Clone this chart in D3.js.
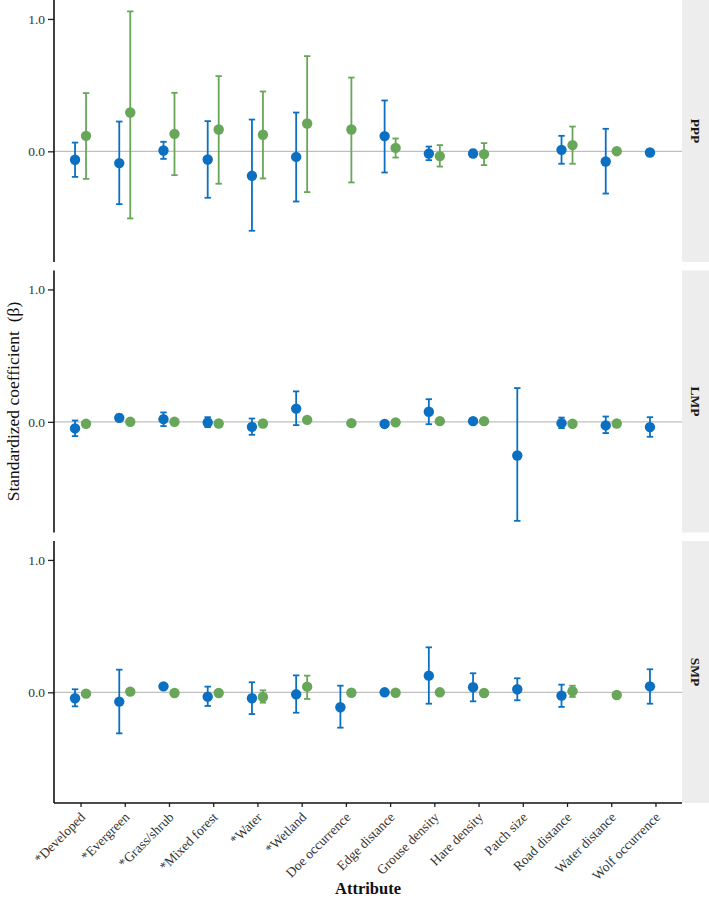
<!DOCTYPE html>
<html><head><meta charset="utf-8">
<script src="https://cdn.jsdelivr.net/npm/d3@7"></script>
<style>body{margin:0;background:#fff}svg{display:block}</style>
</head><body>
<script>
const categories = ["*Developed","*Evergreen","*Grass/shrub","*Mixed forest","*Water","*Wetland","Doe occurrence","Edge distance","Grouse density","Hare density","Patch size","Road distance","Water distance","Wolf occurrence"];
const panels = ["PPP","LMP","SMP"];
const seriesNames = ["Model A","Model B"];
const seriesColors = ["#0b70c2","#68a65a"];
const yTicks = [0, 1];
const yTickLabels = ["0.0","1.0"];

// [estimate, lower, upper] per category; null = absent
const pppA = [[-0.064,-0.193,0.066],[-0.089,-0.399,0.225],[0.006,-0.057,0.072],[-0.062,-0.351,0.228],[-0.185,-0.600,0.240],[-0.042,-0.379,0.293],null,[0.115,-0.160,0.384],[-0.017,-0.067,0.036],[-0.017,-0.039,0.012],null,[0.011,-0.094,0.117],[-0.077,-0.319,0.170],[-0.009,-0.029,0.012]];
const pppB = [[0.117,-0.208,0.440],[0.293,-0.507,1.057],[0.132,-0.180,0.442],[0.165,-0.245,0.568],[0.125,-0.205,0.452],[0.210,-0.308,0.719],[0.165,-0.235,0.557],[0.026,-0.047,0.097],[-0.036,-0.115,0.047],[-0.021,-0.104,0.062],null,[0.047,-0.094,0.187],[0.001,-0.004,0.006],null];
const lmpA = [[-0.050,-0.108,0.010],[0.030,0.007,0.055],[0.020,-0.032,0.071],[-0.005,-0.040,0.035],[-0.038,-0.098,0.025],[0.100,-0.025,0.230],null,[-0.016,-0.022,-0.010],[0.076,-0.018,0.171],[0.005,-0.001,0.011],[-0.254,-0.748,0.255],[-0.010,-0.048,0.032],[-0.027,-0.085,0.040],[-0.040,-0.113,0.035]];
const lmpB = [[-0.015,-0.018,-0.012],[0.000,-0.003,0.003],[0.000,-0.003,0.003],[-0.013,-0.016,-0.010],[-0.013,-0.016,-0.010],[0.015,0.010,0.020],[-0.010,-0.013,-0.007],[-0.004,-0.007,-0.001],[0.005,0.002,0.008],[0.005,0.002,0.008],null,[-0.015,-0.018,-0.012],[-0.013,-0.016,-0.010],null];
const smpA = [[-0.045,-0.106,0.023],[-0.070,-0.310,0.171],[0.045,0.030,0.060],[-0.033,-0.103,0.043],[-0.045,-0.164,0.076],[-0.015,-0.154,0.128],[-0.113,-0.267,0.050],[0.000,-0.004,0.004],[0.126,-0.086,0.340],[0.038,-0.068,0.144],[0.023,-0.060,0.106],[-0.025,-0.110,0.058],null,[0.045,-0.086,0.174]];
const smpB = [[-0.010,-0.013,-0.007],[0.005,0.002,0.008],[-0.005,-0.008,-0.002],[-0.005,-0.008,-0.002],[-0.035,-0.078,0.015],[0.043,-0.050,0.126],[-0.003,-0.006,0.000],[-0.003,-0.006,0.000],[0.000,-0.003,0.003],[-0.005,-0.008,-0.002],null,[0.008,-0.035,0.050],[-0.020,-0.040,0.000],null];
const panelData = [[pppA,pppB],[lmpA,lmpB],[smpA,smpB]];

const W = 709, H = 908;
const left = 54, right = 682, stripW = 28;
const panelTop = [0, 270.5, 541], panelH = 262;
const yDomain = [-0.836, 1.143];
const font = "'Liberation Serif','Times New Roman',serif";

const svg = d3.select("body").append("svg").attr("width", W).attr("height", H);
const x = d3.scalePoint().domain(categories).range([left, right]).padding(0.6);
const dodge = d3.scalePoint().domain(seriesNames).range([-5.5, 5.5]);

panels.forEach((p, pi) => {
  const top = panelTop[pi];
  const y = d3.scaleLinear().domain(yDomain).range([top + panelH, top]);
  const g = svg.append("g");
  g.append("line").attr("x1", left).attr("x2", right).attr("y1", y(0)).attr("y2", y(0))
    .attr("stroke", "#bfbfbf").attr("stroke-width", 1.3);
  g.append("rect").attr("x", right).attr("y", top).attr("width", stripW).attr("height", panelH).attr("fill", "#ededed");
  g.append("text").attr("transform", `translate(${right + 13},${top + panelH / 2}) rotate(90)`)
    .attr("text-anchor", "middle").attr("dominant-baseline", "central")
    .attr("font-family", font).attr("font-weight", "bold").attr("font-size", 13.5).attr("fill", "#1a1a1a").text(p);
  const ax = g.append("g").attr("transform", `translate(${left},0)`)
    .call(d3.axisLeft(y).tickValues(yTicks).tickFormat((d, i) => yTickLabels[i]).tickSize(6).tickPadding(3));
  ax.select(".domain").remove();
  ax.selectAll(".tick line").attr("stroke", "#222").attr("stroke-width", 1.3);
  ax.selectAll(".tick text").attr("font-family", font).attr("font-size", 13.5).attr("fill", "#333");
  g.append("line").attr("x1", left).attr("x2", left).attr("y1", top).attr("y2", top + panelH)
    .attr("stroke", "#111").attr("stroke-width", 1.6);

  seriesNames.forEach((s, si) => {
    const data = panelData[pi][si];
    const col = seriesColors[si];
    const sg = g.append("g");
    data.forEach((d, ci) => {
      if (!d) return;
      const cx = x(categories[ci]) + dodge(s);
      sg.append("line").attr("x1", cx).attr("x2", cx).attr("y1", y(d[1])).attr("y2", y(d[2]))
        .attr("stroke", col).attr("stroke-width", 1.8);
      [d[1], d[2]].forEach(v => sg.append("line").attr("x1", cx - 3.2).attr("x2", cx + 3.2)
        .attr("y1", y(v)).attr("y2", y(v)).attr("stroke", col).attr("stroke-width", 1.8));
    });
    data.forEach((d, ci) => {
      if (!d) return;
      sg.append("circle").attr("cx", x(categories[ci]) + dodge(s)).attr("cy", y(d[0])).attr("r", 5.2)
        .attr("fill", col);
    });
  });
});

const bottom = panelTop[2] + panelH;
const xa = svg.append("g").attr("transform", `translate(0,${bottom})`).call(d3.axisBottom(x).tickSize(4).tickPadding(4));
xa.select(".domain").remove();
xa.selectAll(".tick line").attr("stroke", "#222").attr("stroke-width", 1.3);
xa.selectAll(".tick text").attr("font-family", font).attr("font-size", 13.5).attr("fill", "#333")
  .attr("text-anchor", "end").attr("dy", null)
  .attr("transform", "translate(5,15) rotate(-45)").attr("y", 0).attr("x", 0);
svg.append("line").attr("x1", left).attr("x2", right).attr("y1", bottom).attr("y2", bottom)
  .attr("stroke", "#111").attr("stroke-width", 1.6);

svg.append("text").attr("x", (left + right) / 2).attr("y", 894).attr("text-anchor", "middle")
  .attr("font-family", font).attr("font-weight", "bold").attr("font-size", 16.5).attr("fill", "#111").text("Attribute");
svg.append("text").attr("transform", `translate(19,${bottom / 2}) rotate(-90)`).attr("text-anchor", "middle")
  .attr("font-family", font).attr("font-size", 17.5).attr("fill", "#111").attr("xml:space", "preserve")
  .text("Standardized coefficient  (β)");
</script>
</body></html>
